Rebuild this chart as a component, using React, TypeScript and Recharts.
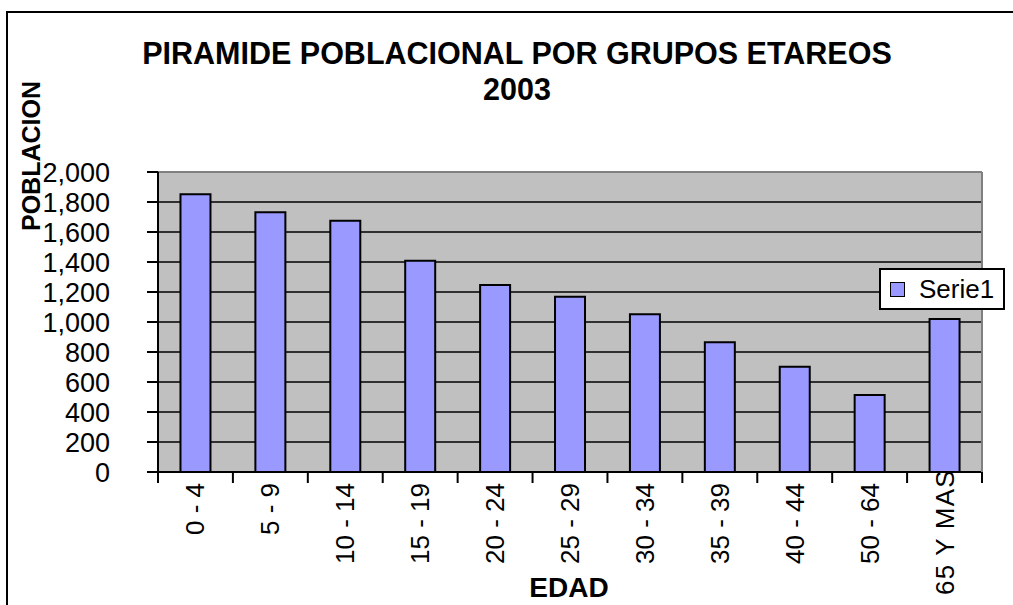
import { BarChart, Bar, XAxis, YAxis, CartesianGrid, Legend, ReferenceLine } from 'recharts'

const categories = ['0 - 4', '5 - 9', '10 - 14', '15 - 19', '20 - 24', '25 - 29', '30 - 34', '35 - 39', '40 - 44', '50 - 64', '65 Y MAS']
const serie1 = [1851, 1731, 1675, 1409, 1247, 1169, 1051, 865, 702, 513, 1020]
const yTicks = [0, 200, 400, 600, 800, 1000, 1200, 1400, 1600, 1800, 2000]

const data = categories.map((edad, i) => ({ edad, serie1: serie1[i] }))

const FONT = '"Liberation Sans", Arial, sans-serif'
const W = 1013
const H = 605

function EdadTick(props: any) {
    const { x, y, payload, index } = props
    const half = payload && payload.offset ? payload.offset : 37.45
    const label = String(payload.value)
    // long labels don't fit below the axis, Excel pushes them up
    const long = label.length > 7
    return (
        <g>
            <line x1={x - half} x2={x - half} y1={y - 11} y2={y} stroke="#000" strokeWidth={2} />
            {index === categories.length - 1 && (
                <line x1={x + half} x2={x + half} y1={y - 11} y2={y} stroke="#000" strokeWidth={2} />
            )}
            <text
                transform={`translate(${x},${long ? H - 10 : y}) rotate(-90)`}
                textAnchor={long ? 'start' : 'end'}
                dominantBaseline="central"
                fontSize={26}
                fontFamily={FONT}
                fill="#000"
                letterSpacing={long ? 1.2 : 0}
            >
                {label}
            </text>
        </g>
    )
}

function LegendBox() {
    return (
        <div
            style={{
                boxSizing: 'border-box',
                width: 126,
                height: 42,
                border: '2px solid #000',
                background: '#fff',
                display: 'flex',
                alignItems: 'center',
                paddingLeft: 9,
                fontFamily: FONT,
                fontSize: 26,
                color: '#000',
            }}
        >
            <span
                style={{
                    boxSizing: 'border-box',
                    width: 15,
                    height: 15,
                    background: '#9999FF',
                    border: '1.5px solid #000',
                    marginRight: 14,
                }}
            />
            <span>Serie1</span>
        </div>
    )
}

export default function App() {
    return (
        <div style={{ position: 'absolute', left: 0, top: 0, width: W, height: H, overflow: 'hidden', background: '#fff' }}>
            <svg width={W} height={H} style={{ position: 'absolute', left: 0, top: 0 }}>
                {/* chart frame, only top and left edges are inside the picture */}
                <path d={`M7,${H} L7,12 L${W + 10},12`} fill="none" stroke="#000" strokeWidth={2} />
            </svg>
            <div style={{ position: 'absolute', left: 0, top: 0 }}>
                <BarChart
                    width={W}
                    height={H}
                    data={data}
                    margin={{ top: 172, right: 0, bottom: 0, left: 0 }}
                    barCategoryGap="30%"
                >
                    <CartesianGrid vertical={false} fill="#C0C0C0" stroke="#000" strokeWidth={1.5} />
                    <XAxis
                        dataKey="edad"
                        height={133}
                        interval={0}
                        tickSize={11}
                        tickMargin={0}
                        tickLine={false}
                        axisLine={{ stroke: '#000', strokeWidth: 2 }}
                        tick={<EdadTick />}
                    />
                    <YAxis
                        width={158}
                        domain={[0, 2000]}
                        ticks={yTicks}
                        interval={0}
                        tickSize={11}
                        tickMargin={37}
                        axisLine={{ stroke: '#000', strokeWidth: 2 }}
                        tickLine={{ stroke: '#000', strokeWidth: 2 }}
                        tick={{ fill: '#000', fontSize: 27, fontFamily: FONT }}
                        tickFormatter={(v: number) => v.toLocaleString('en-US')}
                    />
                    <YAxis
                        yAxisId="right"
                        orientation="right"
                        width={31}
                        domain={[0, 2000]}
                        tick={false}
                        tickLine={false}
                        axisLine={{ stroke: '#808080', strokeWidth: 2 }}
                    />
                    <ReferenceLine y={2000} stroke="#808080" strokeWidth={2} />
                    <Legend
                        layout="horizontal"
                        verticalAlign="middle"
                        align="center"
                        wrapperStyle={{ left: 879, top: 268, width: 126, height: 42 }}
                        content={<LegendBox />}
                    />
                    <Bar
                        dataKey="serie1"
                        name="Serie1"
                        fill="#9999FF"
                        stroke="#000"
                        strokeWidth={2}
                        isAnimationActive={false}
                    />
                </BarChart>
            </div>
            <svg
                width={W}
                height={H}
                style={{ position: 'absolute', left: 0, top: 0, pointerEvents: 'none' }}
                fontFamily={FONT}
                fontWeight="bold"
                fill="#000"
            >
                <text x={517} y={53} textAnchor="middle" dominantBaseline="central" fontSize={30.5}>
                    PIRAMIDE POBLACIONAL POR GRUPOS ETAREOS
                </text>
                <text x={517} y={89} textAnchor="middle" dominantBaseline="central" fontSize={30.5}>
                    2003
                </text>
                <text
                    transform="translate(31,156) rotate(-90)"
                    textAnchor="middle"
                    dominantBaseline="central"
                    fontSize={25}
                >
                    POBLACION
                </text>
                <text x={569} y={587} textAnchor="middle" dominantBaseline="central" fontSize={28}>
                    EDAD
                </text>
            </svg>
        </div>
    )
}
